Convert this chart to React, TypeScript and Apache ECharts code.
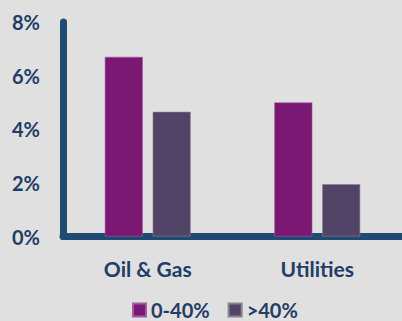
import React, { useEffect, useRef } from "react";
import * as echarts from "echarts";

const categories = ["Oil & Gas", "Utilities"];
const seriesNames = ["0-40%", ">40%"];
const lowValues = [6.7, 5.0];
const highValues = [4.65, 1.95];
const yTicks = [0, 2, 4, 6, 8];

const NAVY = "#1f4a72";
const TEXT = "#1f3d66";
const PURPLE = "#7a1874";
const GREYPURPLE = "#524466";

export default function App() {
  const ref = useRef<HTMLDivElement>(null);
  useEffect(() => {
    if (!ref.current) return;
    const chart = echarts.init(ref.current, null, { renderer: "svg" });
    chart.setOption({
      animation: false,
      backgroundColor: "#e0e0e0",
      textStyle: { fontFamily: "Lato" },
      grid: { left: 63, right: -1, top: 22, bottom: 84.5, containLabel: false },
      legend: {
        data: seriesNames,
        left: 132,
        top: 300,
        padding: 0,
        icon: "rect",
        itemWidth: 13,
        itemHeight: 13,
        itemGap: 18,
        textStyle: {
          color: TEXT,
          fontFamily: "Lato",
          fontWeight: "bold",
          fontSize: 20,
          lineHeight: 18,
          padding: [0, 0, 0, 0],
        },
      },
      xAxis: {
        type: "category",
        data: categories,
        axisLine: { show: true, lineStyle: { color: NAVY, width: 7 } },
        axisTick: { show: false },
        axisLabel: {
          color: TEXT,
          fontFamily: "Lato",
          fontWeight: "bold",
          fontSize: 21,
          margin: 21,
        },
      },
      yAxis: {
        type: "value",
        min: yTicks[0],
        max: yTicks[yTicks.length - 1],
        interval: 2,
        axisLine: { show: true, lineStyle: { color: NAVY, width: 7 } },
        axisTick: { show: false },
        splitLine: { show: false },
        axisLabel: {
          color: TEXT,
          fontFamily: "Lato",
          fontWeight: "bold",
          fontSize: 20,
          margin: 23,
          formatter: (v: number) => `${v}%`,
        },
      },
      series: [
        {
          name: seriesNames[0],
          type: "bar",
          data: lowValues,
          barWidth: 38,
          barGap: "26%",
          itemStyle: { color: PURPLE, borderColor: "#a35aa0", borderWidth: 0.6 },
        },
        {
          name: seriesNames[1],
          type: "bar",
          data: highValues,
          barWidth: 38,
          itemStyle: { color: GREYPURPLE, borderColor: "#8a7f98", borderWidth: 0.6 },
        },
      ],
    });
    return () => chart.dispose();
  }, []);
  return (
    <div
      ref={ref}
      style={{ position: "fixed", left: 0, top: 0, width: 402, height: 321 }}
    />
  );
}
